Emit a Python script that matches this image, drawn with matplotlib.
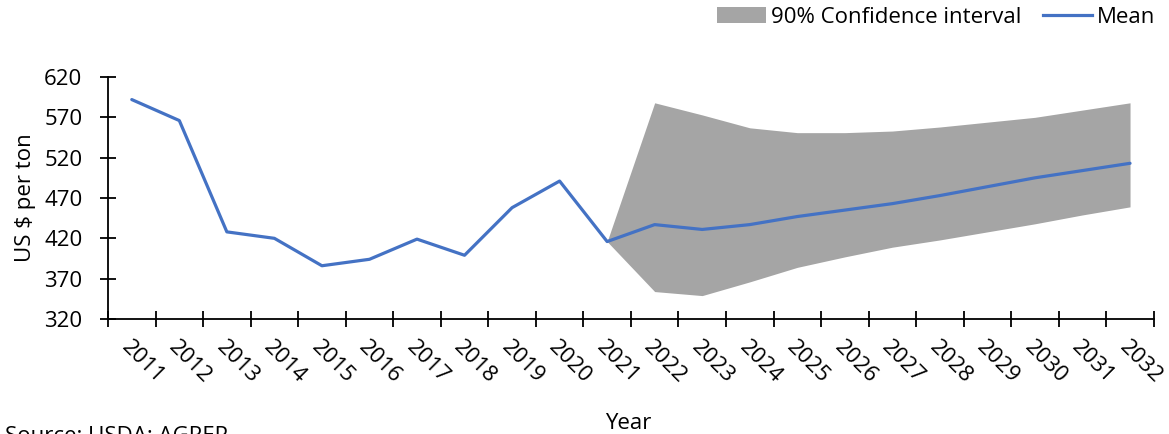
import numpy as np
import matplotlib.pyplot as plt
import matplotlib.transforms as mtransforms
from matplotlib.patches import Patch
from matplotlib.lines import Line2D

plt.rcParams['font.family'] = ['Open Sans', 'DejaVu Sans']

# yearly price, history plus projection
years = [str(y) for y in range(2011, 2033)]
mean_price = [592, 566, 428, 420, 386, 394, 419, 399, 458, 491, 416,
              437, 431, 437, 447, 455, 463, 473, 484, 495, 504, 513]

# 90% confidence band, 2021 onwards
band_years = [str(y) for y in range(2021, 2033)]
band_low = [416, 354, 349, 366, 384, 397, 409, 418, 428, 438, 449, 459]
band_high = [416, 588, 573, 557, 551, 551, 553, 558, 564, 570, 579, 588]

yticks = [320, 370, 420, 470, 520, 570, 620]

blue = '#4472C4'
grey = '#A5A5A5'
fs = 16

fig = plt.figure(figsize=(11.69, 4.34), dpi=100)
ax = fig.add_axes([0.0924, 0.265, 0.8946, 0.5576])

x = np.arange(len(years))
bx = np.array([years.index(y) for y in band_years])

ax.fill_between(bx, band_low, band_high, color=grey, linewidth=0, zorder=1)
ax.plot(x, mean_price, color=blue, linewidth=2.3, zorder=3, solid_capstyle='round')

ax.set_xlim(-0.5, len(years) - 0.5)
ax.set_ylim(320, 620)
ax.set_yticks(yticks)
ax.set_yticklabels([str(v) for v in yticks], fontsize=fs)

# category axis: ticks sit between the years, labels at centres
ax.set_xticks(np.arange(len(years) + 1) - 0.5)
ax.set_xticklabels([])
ax.set_xticks(x, minor=True)
ax.set_xticklabels(years, minor=True, rotation=-45, ha='left', va='top',
                   rotation_mode='anchor', fontsize=fs)
shift = mtransforms.ScaledTranslation(-8 / 100, 0, fig.dpi_scale_trans)
for lab in ax.get_xticklabels(minor=True):
    lab.set_transform(lab.get_transform() + shift)

ax.tick_params(axis='x', which='major', direction='inout', length=11.5, width=1.3)
ax.tick_params(axis='x', which='minor', length=0, pad=13)
ax.tick_params(axis='y', direction='inout', length=11, width=1.3, pad=13)

for side in ['top', 'right']:
    ax.spines[side].set_visible(False)
for side in ['left', 'bottom']:
    ax.spines[side].set_linewidth(1.3)
    ax.spines[side].set_color('black')

ax.set_ylabel('US $ per ton', fontsize=fs, labelpad=6)
fig.text(0.537, 0.0115, 'Year', fontsize=fs, ha='center', va='baseline')
fig.text(0.004, -0.018, 'Source: USDA; AGREP', fontsize=fs, ha='left', va='baseline')

handles = [Patch(facecolor=grey, edgecolor='none'),
           Line2D([0], [0], color=blue, linewidth=2.3)]
fig.legend(handles, ['90% Confidence interval', 'Mean'], loc='upper right',
           bbox_to_anchor=(1.005, 1.03), ncol=2, frameon=False, fontsize=fs,
           handlelength=2.2, handletextpad=0.2, columnspacing=1.0)

fig.savefig('out.png', dpi=100)
